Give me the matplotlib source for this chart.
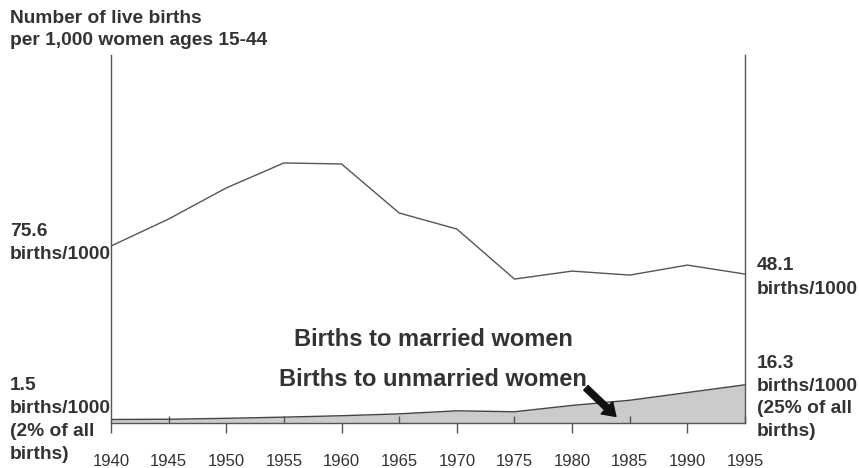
import numpy as np
import matplotlib
matplotlib.use('Agg')
import matplotlib.pyplot as plt

# data
years = [1940, 1945, 1950, 1955, 1960, 1965, 1970, 1975, 1980, 1985, 1990, 1995]
married = [75.6, 102.1, 132.6, 157.1, 156.1, 108.0, 92.3, 43.2, 51.0, 47.1, 56.9, 48.1]
unmarried = [1.5, 1.6, 2.0, 2.5, 3.1, 3.9, 5.2, 4.8, 7.5, 9.7, 13.0, 16.3]
major_years = [1940, 1950, 1960, 1970, 1980, 1990]
minor_years = [1945, 1955, 1965, 1975, 1985, 1995]

txt = '#333333'
plt.rcParams['font.family'] = ['Liberation Sans', 'DejaVu Sans']

fig = plt.figure(figsize=(8.59, 4.68), dpi=100)
ax = fig.add_axes([111 / 859, 45 / 468, 634 / 859, 368 / 468])

# births to unmarried women: shaded area
ax.fill_between(years, 0, unmarried, color='#cbcbcb', linewidth=0)
ax.plot(years, unmarried, color='#444444', lw=1.0)
ax.set_xlim(1940, 1995)
ax.set_ylim(0, 157)

ax.spines['top'].set_visible(False)
for s in ['left', 'right', 'bottom']:
    ax.spines[s].set_color('#555555')
    ax.spines[s].set_linewidth(1.0)

ax.set_yticks([])
ax.set_xticks(major_years)
ax.set_xticks(minor_years, minor=True)
ax.set_xticklabels([str(y) for y in major_years])
ax.set_xticklabels([str(y) for y in minor_years], minor=True)
ax.tick_params(axis='x', which='major', direction='out', length=7, width=1,
               color='#555555', pad=15, labelsize=12, labelcolor=txt)
ax.tick_params(axis='x', which='minor', direction='in', length=5, width=1,
               color='#555555', pad=22, labelsize=12, labelcolor=txt)

# births to married women: line on its own scale
ax2 = ax.twinx()
ax2.plot(years, married, color='#555555', lw=1.0)
ax2.set_ylim(-98, 263)
ax2.set_yticks([])
for s in ax2.spines.values():
    s.set_visible(False)

def ftext(x, y, lines, step=23, size=13.8, **kw):
    # one text per line so each label keeps a tight box
    for i, s in enumerate(lines):
        fig.text(x / 859, 1 - (y + i * step) / 468, s, color=txt,
                 fontweight='bold', va='top', fontsize=size, **kw)

ftext(10, 10, ['Number of live births', 'per 1,000 women ages 15-44'], step=22)
ftext(10, 223, ['75.6', 'births/1000'])
ftext(757, 257, ['48.1', 'births/1000'], step=23.5)
ftext(757, 355, ['16.3', 'births/1000', '(25% of all', 'births)'], step=22.7)
ftext(10, 377, ['1.5', 'births/1000', '(2% of all', 'births)'], step=23)
ftext(433, 328, ['Births to married women'], size=17, ha='center')
ftext(433, 368, ['Births to unmarried women'], size=17, ha='center')

ax.annotate('', xy=(1983.8, 2.8), xytext=(1981.2, 15.0),
            arrowprops=dict(arrowstyle='simple,head_width=1.2,head_length=0.9,tail_width=0.45',
                            color='#111111', shrinkA=0, shrinkB=0))

fig.savefig('out.png', dpi=100)
